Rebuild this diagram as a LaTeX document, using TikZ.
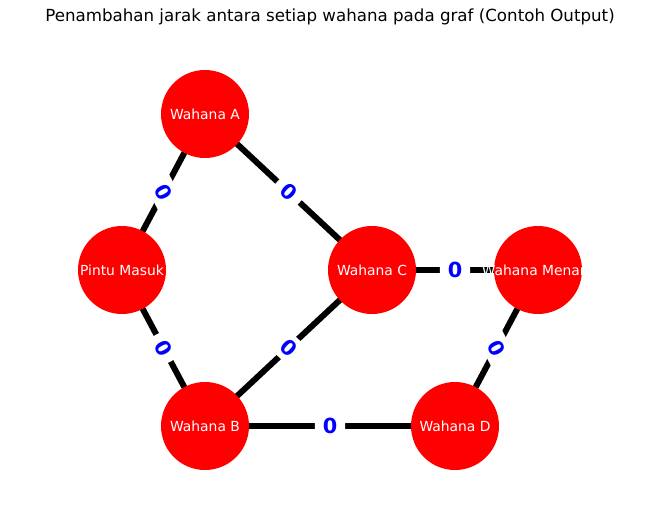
\documentclass[tikz,border=0pt]{standalone}
\usepackage{fontspec}
\setmainfont{DejaVu Sans}
\usetikzlibrary{backgrounds}
\begin{document}
\begin{tikzpicture}[x=0.75pt,y=-0.75pt,
  wnode/.style={circle, fill=red, minimum size=66pt, inner sep=0pt},
  wtext/.style={text=white, inner sep=0pt, font=\fontsize{10.4}{12}\selectfont},
  edgeline/.style={line width=4.5pt, black},
  lbl/.style={fill=white, text=blue, inner xsep=6pt, inner ysep=4pt, rounded corners=2pt, font=\bfseries\fontsize{15.6}{18}\selectfont}]
\useasboundingbox (0,0) rectangle (660,520);
\node[font=\fontsize{12.5}{15}\selectfont] (title) at (330,17) {Penambahan jarak antara setiap wahana pada graf (Contoh Output)};
\node[wnode, label={[wtext]center:Wahana A}] (A) at (205,114) {};
\node[wnode, label={[wtext]center:Pintu Masuk}] (P) at (122,270) {};
\node[wnode, label={[wtext]center:Wahana C}] (C) at (372,270) {};
\node[wnode, label={[wtext]center:Wahana Menara}] (M) at (538,270) {};
\node[wnode, label={[wtext]center:Wahana B}] (B) at (205,426) {};
\node[wnode, label={[wtext]center:Wahana D}] (D) at (455,426) {};
\begin{pgfonlayer}{background}
\draw[edgeline] (A.center) -- (P.center);
\draw[edgeline] (A.center) -- (C.center);
\draw[edgeline] (P.center) -- (B.center);
\draw[edgeline] (B.center) -- (C.center);
\draw[edgeline] (C.center) -- (M.center);
\draw[edgeline] (B.center) -- (D.center);
\draw[edgeline] (D.center) -- (M.center);
\path (A.center) -- node[lbl, rotate=-62] (l1) {0} (P.center);
\path (A.center) -- node[lbl, rotate=-43] (l2) {0} (C.center);
\path (P.center) -- node[lbl, rotate=-62] (l3) {0} (B.center);
\path (B.center) -- node[lbl, rotate=-43] (l4) {0} (C.center);
\path (C.center) -- node[lbl] (l5) {0} (M.center);
\path (B.center) -- node[lbl] (l6) {0} (D.center);
\path (D.center) -- node[lbl, rotate=-62] (l7) {0} (M.center);
\end{pgfonlayer}
\end{tikzpicture}
\end{document}
